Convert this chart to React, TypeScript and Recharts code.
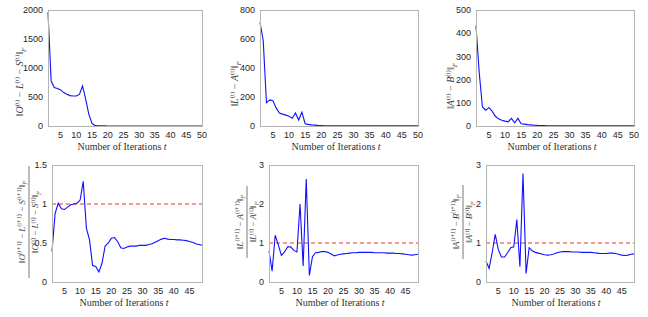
import { LineChart, Line, XAxis, YAxis, ReferenceLine } from 'recharts'

// iteration index t
const itersTop = [
  1, 2, 3, 4, 5, 6, 7, 8, 9, 10, 11, 12, 13, 14, 15, 16, 17, 18, 19, 20, 21, 22, 23, 24, 25,
  26, 27, 28, 29, 30, 31, 32, 33, 34, 35, 36, 37, 38, 39, 40, 41, 42, 43, 44, 45, 46, 47, 48, 49, 50,
]
const itersBottom = [
  1, 2, 3, 4, 5, 6, 7, 8, 9, 10, 11, 12, 13, 14, 15, 16, 17, 18, 19, 20, 21, 22, 23, 24, 25,
  26, 27, 28, 29, 30, 31, 32, 33, 34, 35, 36, 37, 38, 39, 40, 41, 42, 43, 44, 45, 46, 47, 48, 49,
]

// ||O - L - S||_F
const residualOLS = [
  1960, 775, 662, 645, 622, 576, 547, 524, 518, 518, 545, 690, 460, 200, 46, 6, 3, 2, 1.5, 1,
  1, 1, 1, 1, 1, 1, 1, 1, 1, 1, 1, 1, 1, 1, 1, 1, 1, 1, 1, 1, 1, 1, 1, 1, 1, 1, 1, 1, 1, 1,
]
// ||L - A||_F
const residualLA = [
  714, 590, 160, 180, 175, 125, 90, 82, 75, 68, 54, 90, 41, 95, 16, 11, 8, 6, 4, 3,
  2, 1.5, 1.2, 1, 1, 1, 1, 1, 1, 1, 1, 1, 1, 1, 1, 1, 1, 1, 1, 1, 1, 1, 1, 1, 1, 1, 1, 1, 1, 1,
]
// ||A - B||_F
const residualAB = [
  432, 230, 82, 68, 79, 64, 42, 31, 25, 21, 18, 33, 14, 33, 10, 8, 6, 5, 3.5, 2.5,
  2, 1.5, 1, 1, 1, 1, 1, 1, 1, 1, 1, 1, 1, 1, 1, 1, 1, 1, 1, 1, 1, 1, 1, 1, 1, 1, 1, 1, 1, 1,
]

// successive ratios
const ratioOLS = [
  0.39, 0.88, 1.01, 0.94, 0.93, 0.96, 0.99, 1.0, 1.01, 1.05, 1.29, 0.69, 0.54, 0.21, 0.2, 0.13,
  0.24, 0.46, 0.5, 0.56, 0.57, 0.52, 0.44, 0.43, 0.45, 0.46, 0.46, 0.46, 0.47, 0.47, 0.47, 0.48,
  0.49, 0.51, 0.53, 0.55, 0.56, 0.55, 0.545, 0.545, 0.54, 0.54, 0.535, 0.53, 0.52, 0.51, 0.49,
  0.48, 0.47,
]
const ratioLA = [
  0.8, 0.28, 1.2, 0.95, 0.68, 0.77, 0.9, 0.9, 0.81, 0.77, 2.0, 0.41, 2.64, 0.17, 0.65, 0.75,
  0.76, 0.78, 0.78, 0.76, 0.72, 0.67, 0.69, 0.71, 0.72, 0.73, 0.74, 0.75, 0.75, 0.76, 0.76, 0.76,
  0.76, 0.76, 0.75, 0.75, 0.75, 0.75, 0.74, 0.74, 0.74, 0.73, 0.73, 0.72, 0.71, 0.7, 0.69, 0.7,
  0.71,
]
const ratioAB = [
  0.54, 0.35, 0.75, 1.22, 0.83, 0.64, 0.64, 0.75, 0.88, 0.9, 1.6, 0.39, 2.78, 0.22, 0.88, 0.8,
  0.76, 0.74, 0.72, 0.7, 0.69, 0.7, 0.72, 0.75, 0.77, 0.78, 0.78, 0.78, 0.77, 0.77, 0.77, 0.76,
  0.76, 0.76, 0.76, 0.75, 0.74, 0.73, 0.73, 0.73, 0.74, 0.74, 0.73, 0.71, 0.69, 0.68, 0.69, 0.71,
  0.72,
]

const xTicksTop = [5, 10, 15, 20, 25, 30, 35, 40, 45, 50]
const xTicksBottom = [5, 10, 15, 20, 25, 30, 35, 40, 45]
const yTicksOLS = [0, 500, 1000, 1500, 2000]
const yTicksLA = [0, 200, 400, 600, 800]
const yTicksAB = [0, 100, 200, 300, 400, 500]
const yTicksRatioOLS = [0, 0.5, 1, 1.5]
const yTicksRatio = [0, 1, 2, 3]

const FRAME = '#b4b4b4'
const TICK_TEXT = '#262626'
const SERIF = '"Liberation Serif", "Times New Roman", serif'
const tickFont = { fontSize: 9, fill: TICK_TEXT, fontFamily: '"Liberation Sans", Arial, sans-serif' }

type PanelProps = {
  left: number; top: number; width: number; height: number
  plotLeft: number; plotTop: number; plotRight: number; plotBottom: number
  iters: number[]; values: number[]; xTicks: number[]; yTicks: number[]
  refLine?: boolean
}

function Panel(p: PanelProps) {
  const data = p.iters.map((t, i) => ({ t, v: p.values[i] }))
  const xMax = p.iters[p.iters.length - 1]
  const yMax = p.yTicks[p.yTicks.length - 1]
  return (
    <div style={{ position: 'absolute', left: p.left, top: p.top, width: p.width, height: p.height }}>
      {/* MATLAB-style box round the plot area */}
      <div style={{
        position: 'absolute', left: p.plotLeft, top: p.plotTop, boxSizing: 'border-box',
        width: p.plotRight - p.plotLeft + 1, height: p.plotBottom - p.plotTop + 1,
        border: `1px solid ${FRAME}`,
      }} />
      <div style={{ position: 'absolute', left: 0, top: 0 }}>
        <LineChart width={p.width} height={p.height} data={data}
          margin={{ top: p.plotTop, right: p.width - p.plotRight, bottom: 0, left: 0 }}>
          <XAxis dataKey="t" type="number" domain={[1, xMax]} ticks={p.xTicks} interval={0}
            height={p.height - p.plotBottom} tick={tickFont} stroke={FRAME} tickLine={false}
            tickSize={3} tickMargin={3} />
          <YAxis type="number" domain={[0, yMax]} ticks={p.yTicks} interval={0}
            width={p.plotLeft} tick={tickFont} stroke={FRAME} tickLine={false}
            tickSize={3} tickMargin={2} />
          {p.refLine && (
            <ReferenceLine y={1} stroke="#f03232" strokeWidth={1.1} strokeDasharray="4 3" />
          )}
          <Line type="linear" dataKey="v" stroke="#1010ff" strokeWidth={1.1} dot={false}
            isAnimationActive={false} />
        </LineChart>
      </div>
    </div>
  )
}

/* ── math-ish axis titles ─────────────────────────────── */
function Norm({ syms, sup, y = 0, size }: { syms: string[]; sup: string; y?: number; size: number }) {
  const s = size * 0.7
  const up = size * 0.38
  const kids: any[] = [<tspan key="o">‖</tspan>]
  syms.forEach((sym, i) => {
    if (i) kids.push(<tspan key={'m' + i} dy={up}> − </tspan>)
    kids.push(<tspan key={'s' + i} fontStyle="italic">{sym}</tspan>)
    kids.push(<tspan key={'p' + i} fontSize={s} dy={-up}>{sup}</tspan>)
  })
  kids.push(<tspan key="c" dy={up}>‖</tspan>)
  kids.push(<tspan key="f" fontSize={s} fontStyle="italic" dy={size * 0.3}>F</tspan>)
  return (
    <text x={0} y={y} textAnchor="middle" fontFamily={SERIF} fontSize={size} fill="#404040">
      {kids}
    </text>
  )
}

function YTitle({ x, y, syms }: { x: number; y: number; syms: string[] }) {
  return (
    <g transform={`translate(${x},${y}) rotate(-90)`}>
      <Norm syms={syms} sup="(t)" y={3} size={10} />
    </g>
  )
}

function RatioTitle({ x, y, syms, len }: { x: number; y: number; syms: string[]; len: number }) {
  return (
    <g transform={`translate(${x},${y}) rotate(-90)`}>
      <Norm syms={syms} sup="(t+1)" y={-4.5} size={9} />
      <line x1={-len / 2} x2={len / 2} y1={0} y2={0} stroke="#404040" strokeWidth={0.7} />
      <Norm syms={syms} sup="(t)" y={9} size={9} />
    </g>
  )
}

function XTitle({ x, y }: { x: number; y: number }) {
  return (
    <text x={x} y={y} textAnchor="middle" fontFamily={SERIF} fontSize={10} fill="#303030">
      Number of Iterations <tspan fontStyle="italic">t</tspan>
    </text>
  )
}

export default function App() {
  return (
    <div style={{ position: 'absolute', left: 0, top: 0, width: 648, height: 317, background: '#fff' }}>
      <style>{`.recharts-cartesian-axis-line { shape-rendering: crispEdges; }`}</style>
      <Panel left={0} top={0} width={216} height={158} plotLeft={48} plotTop={10} plotRight={202} plotBottom={126}
        iters={itersTop} values={residualOLS} xTicks={xTicksTop} yTicks={yTicksOLS} />
      <Panel left={216} top={0} width={216} height={158} plotLeft={44} plotTop={10} plotRight={202} plotBottom={126}
        iters={itersTop} values={residualLA} xTicks={xTicksTop} yTicks={yTicksLA} />
      <Panel left={432} top={0} width={216} height={158} plotLeft={44} plotTop={10} plotRight={202} plotBottom={126}
        iters={itersTop} values={residualAB} xTicks={xTicksTop} yTicks={yTicksAB} />
      <Panel left={0} top={158} width={216} height={159} plotLeft={52} plotTop={7} plotRight={202} plotBottom={124}
        iters={itersBottom} values={ratioOLS} xTicks={xTicksBottom} yTicks={yTicksRatioOLS} refLine />
      <Panel left={216} top={158} width={216} height={159} plotLeft={53} plotTop={7} plotRight={202} plotBottom={124}
        iters={itersBottom} values={ratioLA} xTicks={xTicksBottom} yTicks={yTicksRatio} refLine />
      <Panel left={432} top={158} width={216} height={159} plotLeft={54} plotTop={7} plotRight={202} plotBottom={124}
        iters={itersBottom} values={ratioAB} xTicks={xTicksBottom} yTicks={yTicksRatio} refLine />

      <svg width={648} height={317} style={{ position: 'absolute', left: 0, top: 0, pointerEvents: 'none' }}>
        <YTitle x={20} y={82} syms={['O', 'L', 'S']} />
        <YTitle x={235} y={84} syms={['L', 'A']} />
        <YTitle x={451} y={86} syms={['A', 'B']} />
        <RatioTitle x={29} y={222} syms={['O', 'L', 'S']} len={112} />
        <RatioTitle x={247} y={222} syms={['L', 'A']} len={72} />
        <RatioTitle x={463} y={222} syms={['A', 'B']} len={74} />
        <XTitle x={122} y={149.5} />
        <XTitle x={336} y={149.5} />
        <XTitle x={552} y={149.5} />
        <XTitle x={124} y={305.5} />
        <XTitle x={340} y={305.5} />
        <XTitle x={556} y={305.5} />
      </svg>
    </div>
  )
}
